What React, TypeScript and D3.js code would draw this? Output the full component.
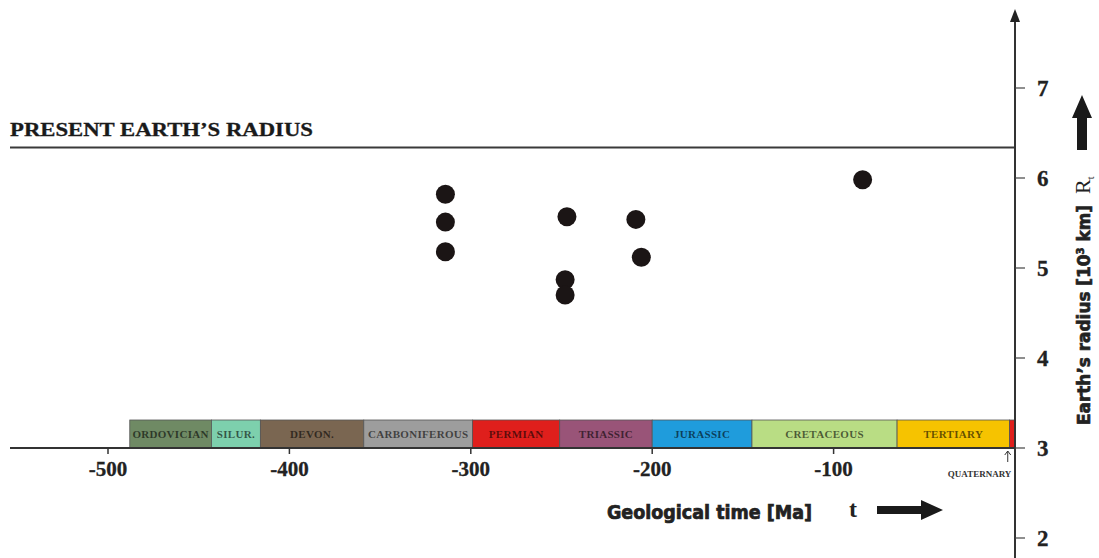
import React from "react";
import * as d3 from "d3";

const periodNames = ["ORDOVICIAN", "SILUR.", "DEVON.", "CARBONIFEROUS", "PERMIAN", "TRIASSIC", "JURASSIC", "CRETACEOUS", "TERTIARY", ""];
const periodStarts = [-488, -443, -416, -359, -299, -251, -200, -145, -65, -3];
const periodEnds = [-443, -416, -359, -299, -251, -200, -145, -65, -3, 0];
const periodColors = ["#6f8a64", "#7dd0ad", "#7a6651", "#9d9d9d", "#df1f1c", "#995478", "#1f9cdc", "#b9dd84", "#f6c300", "#df1f1c"];

const pointAges = [-314, -314, -314, -247, -248, -248, -209, -206, -84];
const pointRadii = [5.82, 5.51, 5.18, 5.57, 4.87, 4.7, 5.54, 5.12, 5.98];

const xTicks = [-500, -400, -300, -200, -100];
const yTicks = [2, 3, 4, 5, 6, 7];
const presentRadius = 6.34;

export default function App() {
  const W = 1099, H = 558;
  const x = d3.scaleLinear().domain([-500, 0]).range([108, 1015]);
  const y = d3.scaleLinear().domain([3, 7]).range([448, 88]);
  const axisX = x(0);
  const axisY = y(3);
  const barH = 28;
  const serif = "'Liberation Serif', 'Times New Roman', serif";
  const cond = "'DejaVu Sans Condensed', 'DejaVu Sans', sans-serif";

  return (
    <svg width={W} height={H} style={{ position: "absolute", left: 0, top: 0, background: "#fff" }}>
      {/* present radius line */}
      <line x1={10} x2={axisX} y1={y(presentRadius)} y2={y(presentRadius)} stroke="#3a3a3a" strokeWidth={2} />
      <text x={10} y={y(presentRadius) - 11} fontFamily={serif} fontWeight="bold" fontSize={19} fill="#1a1a1a" stroke="#1a1a1a" strokeWidth={0.3} textLength={303} lengthAdjust="spacingAndGlyphs">PRESENT EARTH’S RADIUS</text>

      {/* period bar */}
      {periodNames.map((n, i) => {
        const x0 = x(periodStarts[i]);
        const x1 = x(periodEnds[i]);
        return (
          <g key={i}>
            <rect x={x0} y={axisY - barH} width={x1 - x0} height={barH} fill={periodColors[i]} stroke="#555" strokeWidth={0.8} />
            {n && (
              <text x={(x0 + x1) / 2} y={axisY - barH / 2 + 4} textAnchor="middle" fontFamily={serif} fontWeight="bold" fontSize={11} letterSpacing={0.3} fill="#000" fillOpacity={0.6}>{n}</text>
            )}
          </g>
        );
      })}

      {/* x axis */}
      <line x1={10} x2={axisX} y1={axisY} y2={axisY} stroke="#333" strokeWidth={2} />
      {xTicks.map((t) => (
        <g key={t}>
          <line x1={x(t)} x2={x(t)} y1={axisY} y2={axisY + 6} stroke="#333" strokeWidth={1.5} />
          <text x={x(t)} y={axisY + 28} textAnchor="middle" fontFamily={serif} fontWeight="bold" fontSize={21} fill="#222" stroke="#222" strokeWidth={0.3}>{t}</text>
        </g>
      ))}
      {/* quaternary label */}
      <line x1={x(-4)} x2={x(-4)} y1={axisY + 3} y2={axisY + 14} stroke="#333" strokeWidth={1} />
      <path d={`M${x(-4) - 3},${axisY + 7} L${x(-4)},${axisY + 3} L${x(-4) + 3},${axisY + 7}`} fill="none" stroke="#333" strokeWidth={1} />
      <text x={x(-2)} y={axisY + 29} textAnchor="end" fontFamily={serif} fontWeight="bold" fontSize={9} fill="#333">QUATERNARY</text>

      {/* x axis title */}
      <text x={607} y={519} fontFamily={cond} fontWeight="bold" fontSize={20} fill="#222" stroke="#222" strokeWidth={0.7} textLength={205} lengthAdjust="spacingAndGlyphs">Geological time [Ma]</text>
      <text x={853} y={517} textAnchor="middle" fontFamily={serif} fontWeight="bold" fontSize={24} fill="#222">t</text>
      <path d="M877,506 L921,506 L921,500 L943,510 L921,520 L921,514 L877,514 Z" fill="#1a1a1a" />

      {/* y axis */}
      <line x1={axisX} x2={axisX} y1={16} y2={H} stroke="#333" strokeWidth={2} />
      <path d={`M${axisX - 5},${22} L${axisX},${9} L${axisX + 5},${22} Z`} fill="#222" />
      {yTicks.map((t) => (
        <g key={t}>
          <line x1={axisX} x2={axisX + 10} y1={y(t)} y2={y(t)} stroke="#444" strokeWidth={1.2} />
          <text x={axisX + 22} y={y(t) + 8} fontFamily={serif} fontWeight="bold" fontSize={23} fill="#222" stroke="#222" strokeWidth={0.3}>{t}</text>
        </g>
      ))}

      {/* y axis title */}
      <g transform="translate(1090,425) rotate(-90)">
        <text x={0} y={0} fontFamily={cond} fontWeight="bold" fontSize={17} fill="#222" stroke="#222" strokeWidth={0.6} textLength={220} lengthAdjust="spacingAndGlyphs">
          Earth’s radius [10<tspan dy={-6} fontSize={10}>3</tspan><tspan dy={6}> km]</tspan>
        </text>
      </g>
      <g transform="translate(1090,194) rotate(-90)">
        <text x={0} y={0} fontFamily={serif} fontSize={22} fill="#222">R<tspan dy={4} fontSize={10}>t</tspan></text>
      </g>
      <path d="M1077,150 L1077,118 L1072,118 L1082,95 L1092,118 L1087,118 L1087,150 Z" fill="#1a1a1a" />

      {/* points */}
      {pointAges.map((a, i) => (
        <circle key={i} cx={x(a)} cy={y(pointRadii[i])} r={9.5} fill="#1b1515" />
      ))}
    </svg>
  );
}
